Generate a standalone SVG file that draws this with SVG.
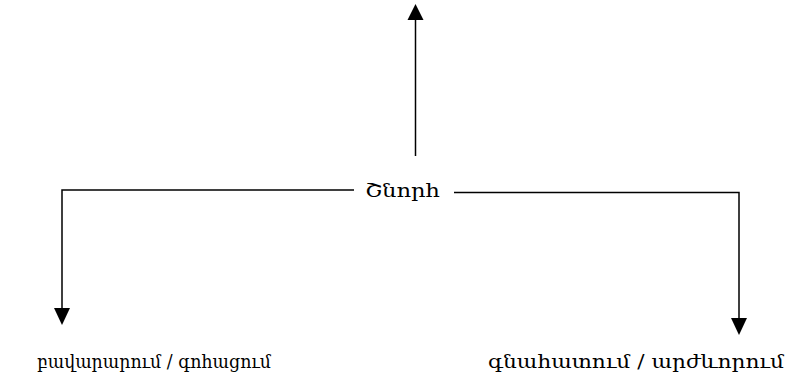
<svg xmlns="http://www.w3.org/2000/svg" width="798" height="382" viewBox="0 0 798 382">
<style>
.t{font-family:"DejaVu Serif","Noto Serif",serif;font-size:19px;fill:#000}
.c{stroke:#000;stroke-width:1.5;fill:none}
.h{fill:#000}
</style>
<rect width="798" height="382" fill="#fff"/>
<g id="connectors">
<line class="c" x1="415.5" y1="156" x2="415.5" y2="18"/>
<polygon class="h" points="415.5,4 407.5,20 423.5,20"/>
<polyline class="c" points="354,190 62,190 62,310"/>
<polygon class="h" points="62,325 54,308 70,308"/>
<polyline class="c" points="454,192.5 739,192.5 739,320"/>
<polygon class="h" points="739,335 731,318 747,318"/>
</g>
<g id="center"><text class="t" x="365" y="197" textLength="75" lengthAdjust="spacingAndGlyphs">Շնորհ</text></g>
<g id="left"><text class="t" x="37" y="368" textLength="234" lengthAdjust="spacingAndGlyphs">բավարարում / գոհացում</text></g>
<g id="right"><text class="t" x="488" y="368" textLength="296" lengthAdjust="spacingAndGlyphs">գնահատում / արժևորում</text></g>
</svg>
